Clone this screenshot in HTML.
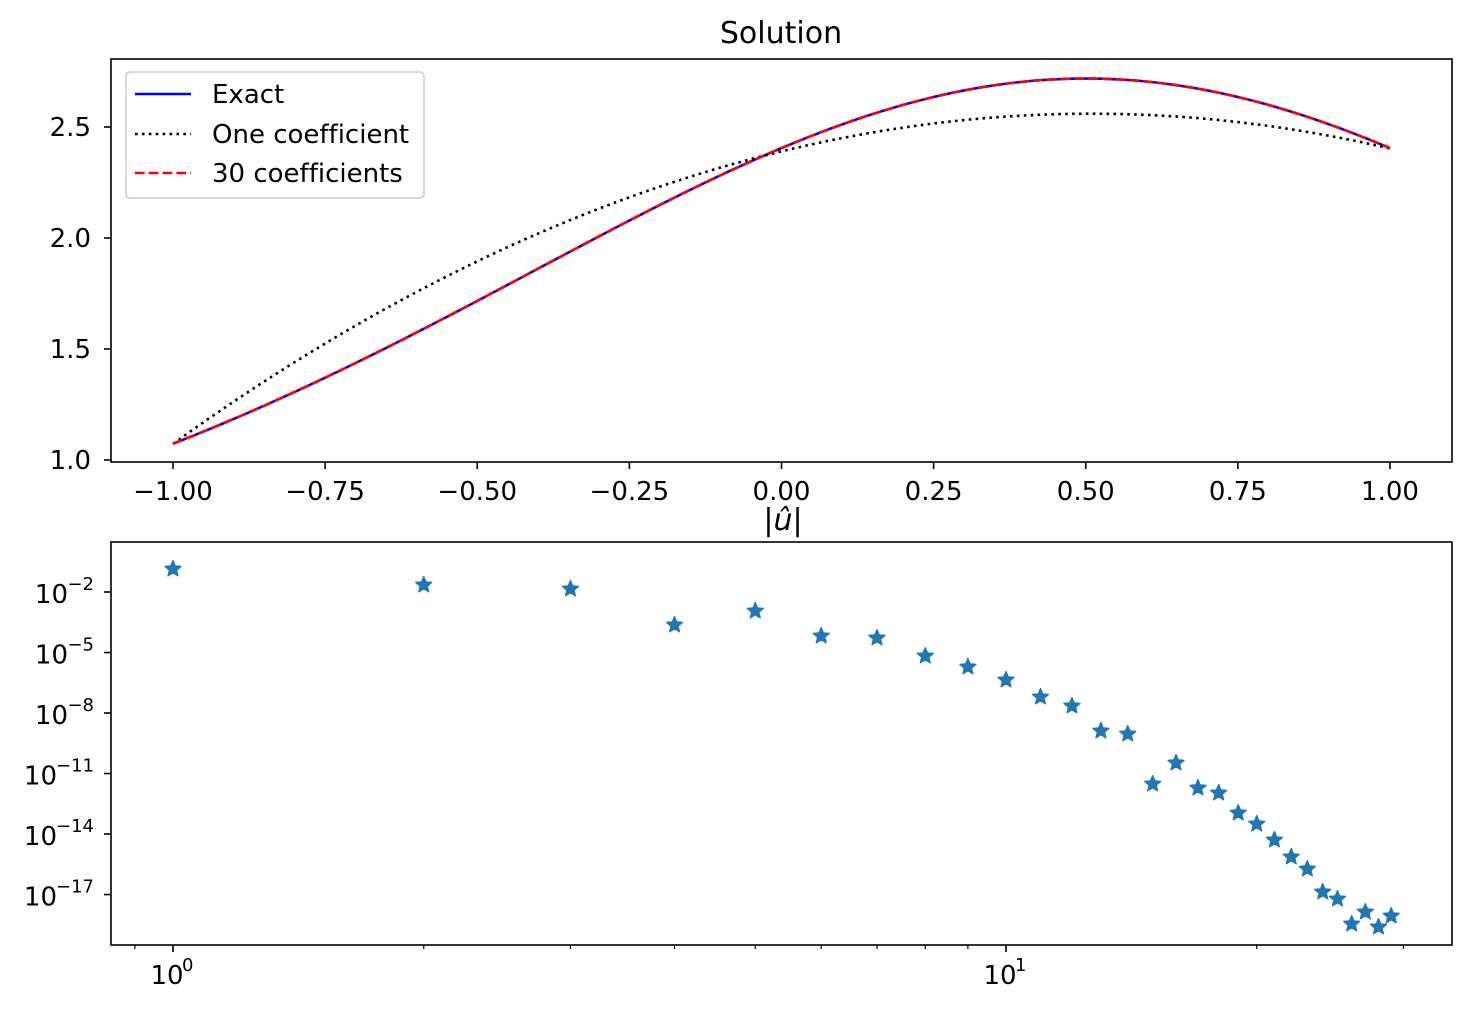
<!DOCTYPE html>
<html><head><meta charset="utf-8"><style>
body{margin:0;background:#fff}
svg text{font-family:"DejaVu Sans","Liberation Sans",sans-serif;fill:#000;font-variant-ligatures:none;font-feature-settings:"liga" 0,"clig" 0}
</style></head><body>
<svg id="s" width="1470" height="1012" viewBox="0 0 1470 1012" xmlns="http://www.w3.org/2000/svg">
<rect width="1470" height="1012" fill="#fff"/>
<text x="781" y="43" text-anchor="middle" style="font-size:30px">Solution</text>
<text x="783" y="530" text-anchor="middle" style="font-size:30px;font-style:italic">|û|</text>
<g id="gtop" style="font-size:26px"></g>
<g id="gbot" style="font-size:26px"></g>
</svg>
<script>
(function(){
var NS="http://www.w3.org/2000/svg";
function el(p,t,a,txt){var e=document.createElementNS(NS,t);for(var k in a)e.setAttribute(k,a[k]);if(txt!==undefined)e.textContent=txt;p.appendChild(e);return e;}
var gt=document.getElementById('gtop'),gb=document.getElementById('gbot');
var L=111,R=1452,T=59,B=462;
function X(x){return 781.5+608.5*x}
function Y(y){return 460-222*(y-1)}
var pe="",pd="";
for(var i=0;i<=400;i++){var x=-1+2*i/400;var u=Math.exp(Math.cos(x-0.5));pe+=(i?"L":"M")+X(x).toFixed(2)+","+Y(u).toFixed(2);
var v=2.403+0.665*x-0.665*x*x-0.0126*(1-x*x);
pd+=(i?"L":"M")+X(x).toFixed(2)+","+Y(v).toFixed(2);}
el(gt,'path',{d:pe,fill:'none',stroke:'#0000ff','stroke-width':2.6});
el(gt,'path',{d:pd,fill:'none',stroke:'#000','stroke-width':2.6,'stroke-dasharray':'2.6,4.3'});
el(gt,'path',{d:pe,fill:'none',stroke:'#ff0000','stroke-width':2.6,'stroke-dasharray':'9.6,4.2'});
el(gt,'rect',{x:L,y:T,width:R-L,height:B-T,fill:'none',stroke:'#000','stroke-width':1.6});
var xt=[-1,-0.75,-0.5,-0.25,0,0.25,0.5,0.75,1],lab=["−1.00","−0.75","−0.50","−0.25","0.00","0.25","0.50","0.75","1.00"];
xt.forEach(function(x,i){el(gt,'line',{x1:X(x),x2:X(x),y1:B,y2:B+7,stroke:'#000','stroke-width':1.6});el(gt,'text',{x:X(x),y:B+38,'text-anchor':'middle'},lab[i]);});
[[1,"1.0"],[1.5,"1.5"],[2,"2.0"],[2.5,"2.5"]].forEach(function(t){var y=Y(t[0]);el(gt,'line',{x1:L-7,x2:L,y1:y,y2:y,stroke:'#000','stroke-width':1.6});el(gt,'text',{x:L-20,y:y+9,'text-anchor':'end'},t[1]);});
el(gt,'rect',{x:126,y:72,width:298,height:126,rx:4,fill:'#fff','fill-opacity':0.8,stroke:'#ccc','stroke-width':1.6});
el(gt,'line',{x1:135,x2:191,y1:94,y2:94,stroke:'#0000ff','stroke-width':2.6});
el(gt,'line',{x1:135,x2:191,y1:134,y2:134,stroke:'#000','stroke-width':2.6,'stroke-dasharray':'2.6,4.3'});
el(gt,'line',{x1:135,x2:191,y1:173,y2:173,stroke:'#ff0000','stroke-width':2.6,'stroke-dasharray':'9.6,4.2'});
el(gt,'text',{x:212,y:103},"Exact");
el(gt,'text',{x:212,y:143},"One coefficient");
el(gt,'text',{x:212,y:182},"30 coefficients");
var T2=542,B2=945;
function LX(n){return 173+833*Math.log(n)/Math.LN10}
function LY(e){return 592-(e+2)*20.17}
var py=[569,585,589,625,611,636,638,656,667,680,697,706,731,734,784,763,788,793,813,824,840,857,869,892,899,924,912,927,916];
function star(cx,cy,r){var d="";for(var k=0;k<10;k++){var rr=k%2?r*0.45:r;var a=-Math.PI/2+k*Math.PI/5;d+=(k?"L":"M")+(cx+rr*Math.cos(a)).toFixed(2)+","+(cy+rr*Math.sin(a)).toFixed(2);}return d+"Z";}
var sd="";py.forEach(function(y,i){sd+=star(LX(i+1),y,8.5);});
el(gb,'path',{d:sd,fill:'#1f77b4',stroke:'#1f77b4','stroke-width':1.2,'stroke-linejoin':'round'});
el(gb,'rect',{x:L,y:T2,width:R-L,height:B2-T2,fill:'none',stroke:'#000','stroke-width':1.6});
[[1,"0"],[10,"1"]].forEach(function(t){var x=LX(t[0]);el(gb,'line',{x1:x,x2:x,y1:B2,y2:B2+7,stroke:'#000','stroke-width':1.6});el(gb,'text',{x:x-6,y:B2+39,'text-anchor':'middle'},"10");el(gb,'text',{x:x+9,y:B2+26,style:'font-size:18px'},t[1]);});
[0.9,2,3,4,5,6,7,8,9,20,30].forEach(function(n){var x=LX(n);if(x<L||x>R)return;el(gb,'line',{x1:x,x2:x,y1:B2,y2:B2+4,stroke:'#000','stroke-width':1.2});});
[-2,-5,-8,-11,-14,-17].forEach(function(e){var y=LY(e);el(gb,'line',{x1:L-7,x2:L,y1:y,y2:y,stroke:'#000','stroke-width':1.6});var sw=String(-e).length>1?36:25;el(gb,'text',{x:L-18-sw,y:y+11,'text-anchor':'end'},"10");el(gb,'text',{x:L-17,y:y-2,'text-anchor':'end',style:'font-size:18px'},"−"+(-e));});
})();
</script>
</body></html>
